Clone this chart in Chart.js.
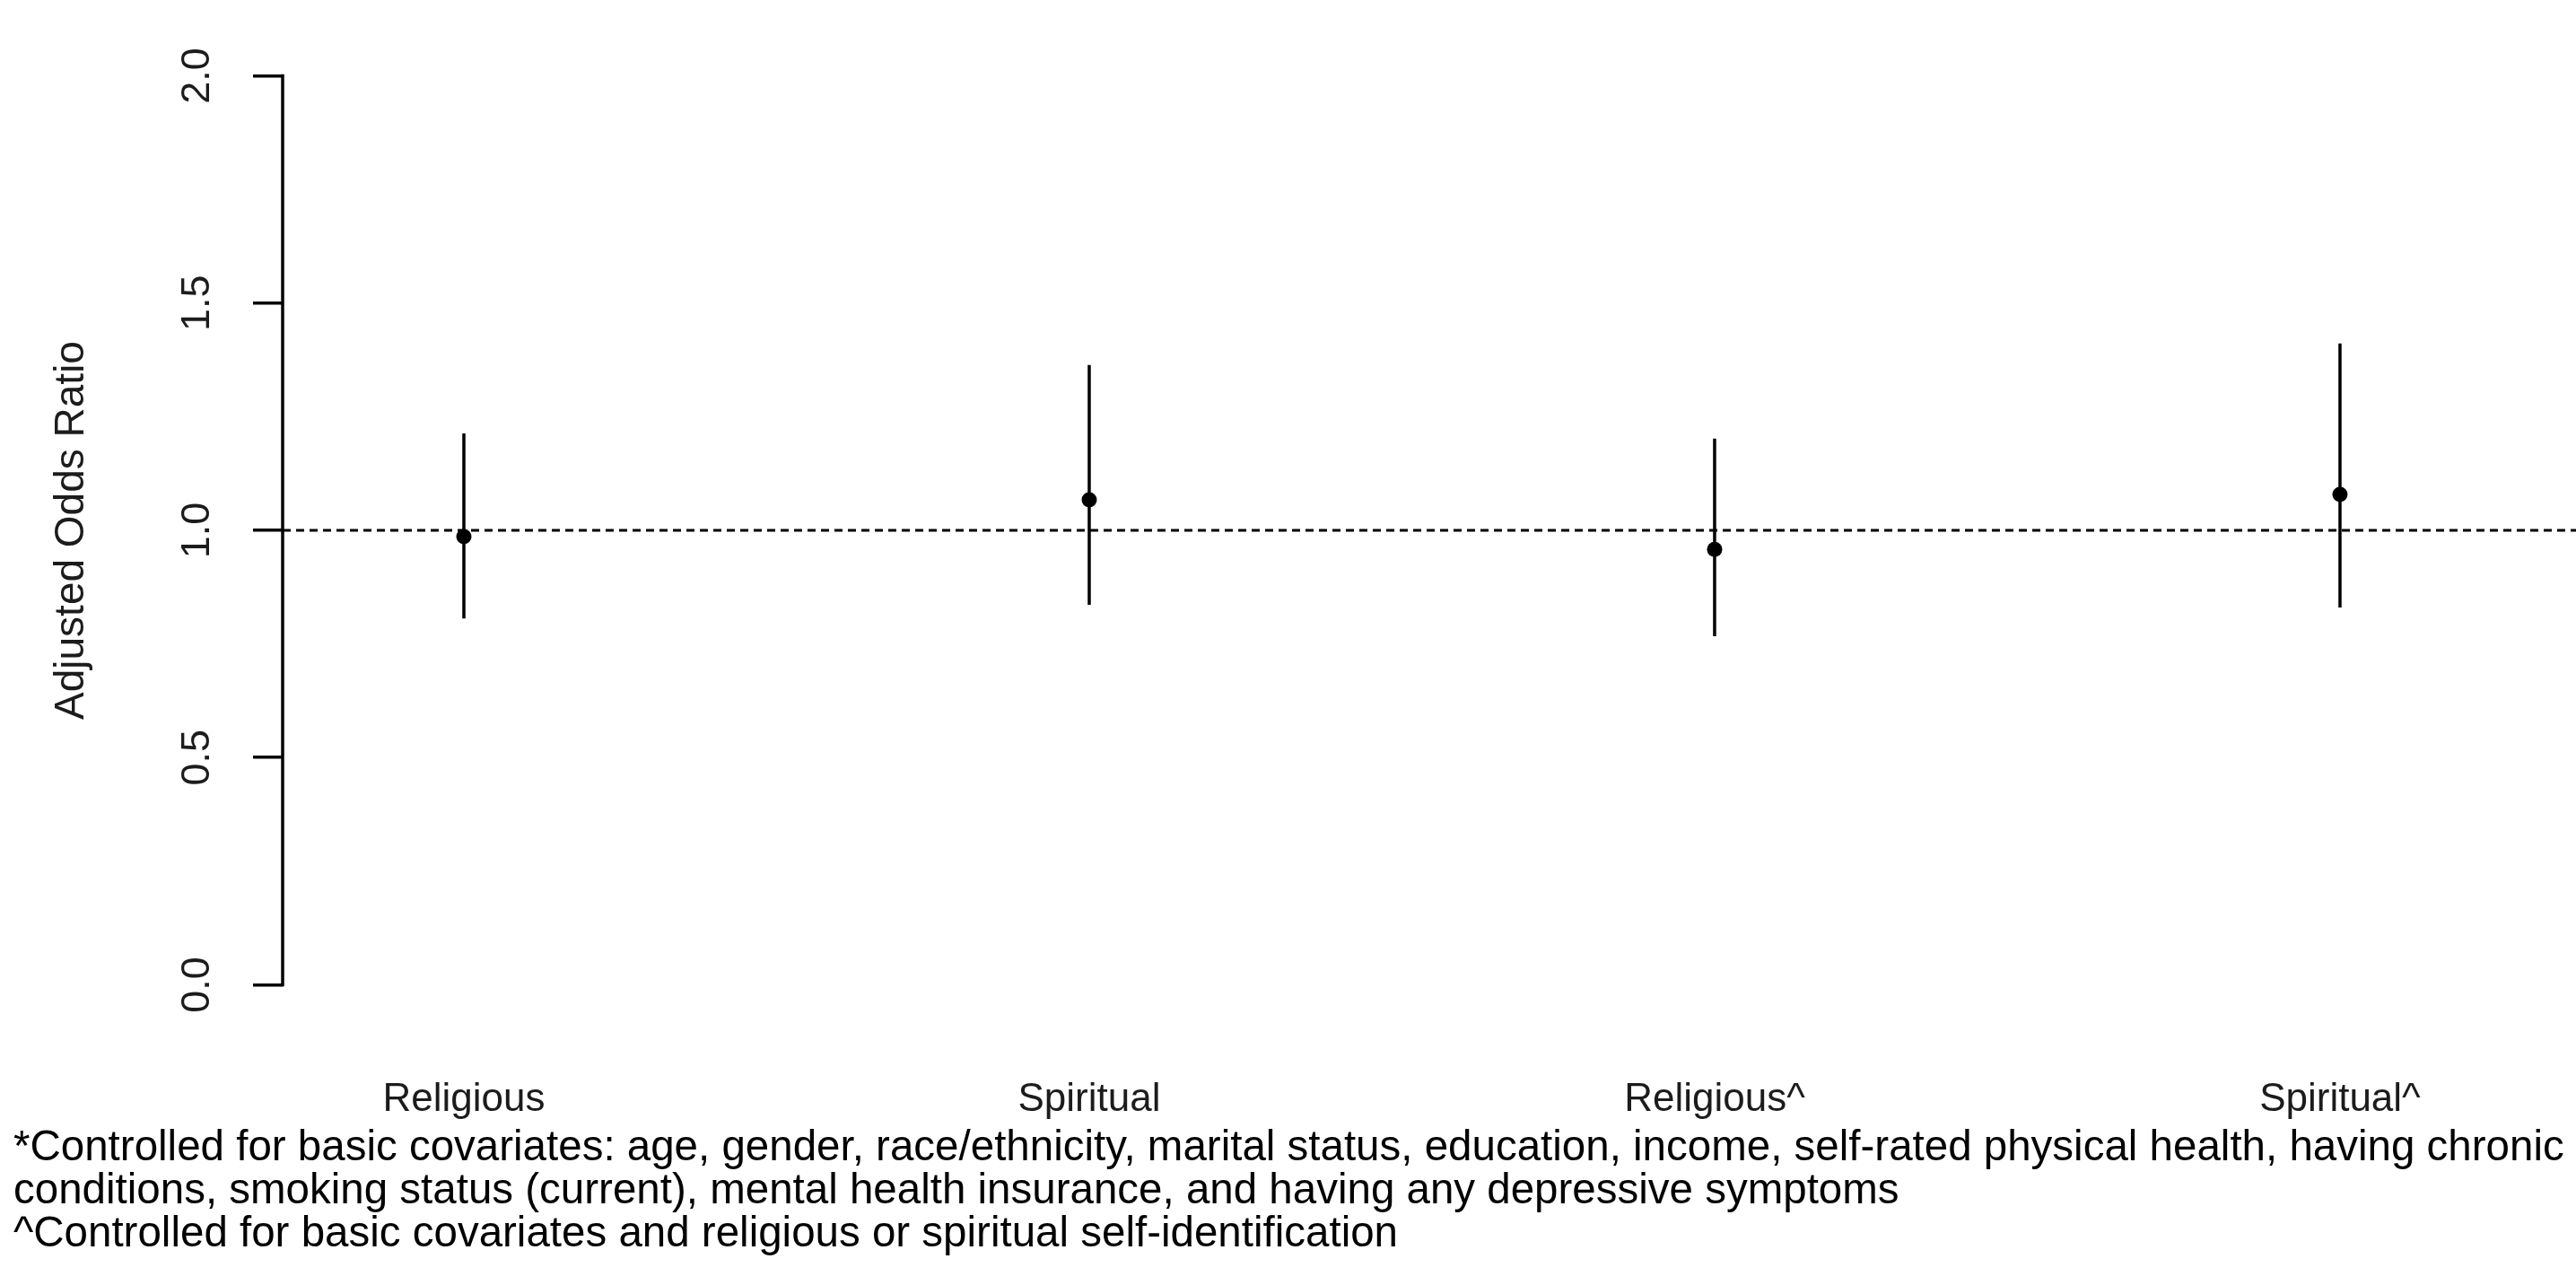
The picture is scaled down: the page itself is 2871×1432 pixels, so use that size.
<!DOCTYPE html>
<html>
<head>
<meta charset="utf-8">
<title>Adjusted Odds Ratio</title>
<script src="https://cdn.jsdelivr.net/npm/chart.js@4.4.1/dist/chart.umd.min.js"></script>
<style>
  html, body { margin: 0; padding: 0; background: #ffffff; overflow: hidden; }
  canvas { display: block; }
</style>
</head>
<body>
<canvas id="chart" width="2871" height="1432"></canvas>
<script>
// Groups along the x axis
const categories = ['Religious', 'Spiritual', 'Religious^', 'Spiritual^'];
// Adjusted odds ratios and their 95% confidence limits
const oddsRatio = [0.986, 1.067, 0.958, 1.079];
const ciLower = [0.806, 0.836, 0.767, 0.830];
const ciUpper = [1.213, 1.364, 1.202, 1.411];
// Y axis tick values and their labels
const yTicks = [0, 0.5, 1, 1.5, 2];
const yTickLabels = ['0.0', '0.5', '1.0', '1.5', '2.0'];
const yTitle = 'Adjusted Odds Ratio';
const referenceValue = 1;
// Notes printed under the plot
const footnotes = [
  '*Controlled for basic covariates: age, gender, race/ethnicity, marital status, education, income, self-rated physical health, having chronic',
  'conditions, smoking status (current), mental health insurance, and having any depressive symptoms',
  '^Controlled for basic covariates and religious or spiritual self-identification'
];

const FONT = '"Liberation Sans", Arial, Helvetica, sans-serif';
const INK = '#1c1c1c';

// x range of the plotting region (axis sits at the left edge)
const X_MIN = 0.7102;
const X_MAX = 4.3652;

const pointData = categories.map((_, i) => ({ x: i + 1, y: oddsRatio[i] }));
const whiskerData = [];
categories.forEach((_, i) => {
  whiskerData.push({ x: i + 1, y: ciLower[i] });
  whiskerData.push({ x: i + 1, y: ciUpper[i] });
  whiskerData.push({ x: i + 1, y: null });
});
// reference line runs from the axis out past the right edge of the page
const refData = [{ x: X_MIN, y: referenceValue }, { x: X_MAX + 0.2, y: referenceValue }];

// Left axis drawn R-style (line spans first to last tick, labels read upward),
// plus the notes block under the plot.
const axisDecor = {
  id: 'axisDecor',
  afterDraw(chart) {
    const ctx = chart.ctx;
    const ys = chart.scales.y;
    const x0 = chart.chartArea.left;
    const yTop = ys.getPixelForValue(yTicks[yTicks.length - 1]);
    const yBot = ys.getPixelForValue(yTicks[0]);
    ctx.save();
    ctx.strokeStyle = '#000';
    ctx.lineWidth = 3.5;
    ctx.beginPath();
    ctx.moveTo(x0, yTop - 1.75);
    ctx.lineTo(x0, yBot + 1.75);
    ctx.stroke();

    ctx.fillStyle = INK;
    ctx.font = '45px ' + FONT;
    ctx.textAlign = 'center';
    ctx.textBaseline = 'alphabetic';
    yTicks.forEach((v, i) => {
      const py = ys.getPixelForValue(v);
      ctx.save();
      ctx.translate(233, py);
      ctx.rotate(-Math.PI / 2);
      ctx.fillText(yTickLabels[i], 0, 0);
      ctx.restore();
    });

    ctx.fillStyle = '#000';
    ctx.font = '47.5px ' + FONT;
    ctx.textAlign = 'left';
    footnotes.forEach((line, i) => {
      ctx.fillText(line, 15, 1293 + i * 48);
    });
    ctx.restore();
  }
};

new Chart(document.getElementById('chart'), {
  type: 'line',
  data: {
    datasets: [
      {
        label: 'Adjusted odds ratio',
        data: pointData,
        showLine: false,
        pointRadius: 8.5,
        pointHoverRadius: 8.5,
        pointBackgroundColor: '#000',
        pointBorderColor: '#000',
        pointBorderWidth: 0,
        order: 0
      },
      {
        label: '95% CI',
        data: whiskerData,
        borderColor: '#000',
        borderWidth: 3.5,
        pointRadius: 0,
        spanGaps: false,
        fill: false,
        order: 1
      },
      {
        label: 'OR = 1',
        data: refData,
        borderColor: '#000',
        borderWidth: 3,
        borderDash: [9, 6],
        pointRadius: 0,
        fill: false,
        clip: { left: 0, top: 0, bottom: 0, right: false },
        order: 2
      }
    ]
  },
  options: {
    responsive: false,
    devicePixelRatio: 1,
    animation: false,
    events: [],
    layout: { padding: { left: 24, right: 0, top: 44, bottom: 159 } },
    plugins: {
      legend: { display: false },
      tooltip: { enabled: false }
    },
    scales: {
      x: {
        type: 'linear',
        min: X_MIN,
        max: X_MAX,
        grid: { display: false },
        border: { display: false },
        afterBuildTicks: (s) => { s.ticks = categories.map((_, i) => ({ value: i + 1 })); },
        afterFit: (s) => { s.height = 135; },
        ticks: {
          autoSkip: false,
          maxRotation: 0,
          minRotation: 0,
          padding: 53,
          color: INK,
          font: { family: FONT, size: 44 },
          callback: (v) => categories[Math.round(v) - 1]
        }
      },
      y: {
        type: 'linear',
        min: -0.08,
        max: 2.08,
        afterBuildTicks: (s) => { s.ticks = yTicks.map(v => ({ value: v })); },
        afterFit: (s) => { s.width = 291; },
        border: { display: false },
        grid: {
          display: true,
          drawOnChartArea: false,
          drawTicks: true,
          tickLength: 33,
          color: '#000',
          lineWidth: 3.5
        },
        ticks: { display: false },
        title: {
          display: true,
          text: yTitle,
          color: INK,
          font: { family: FONT, size: 46 },
          padding: { top: 29, bottom: 0 }
        }
      }
    }
  },
  plugins: [axisDecor]
});
</script>
</body>
</html>
